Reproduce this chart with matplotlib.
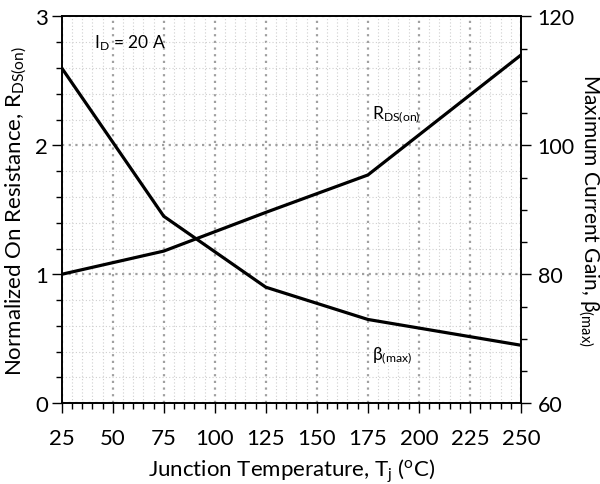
"""Genormaliseerde aan-weerstand en maximale stroomversterking tegen junctietemperatuur."""
import matplotlib
matplotlib.use("Agg")
import matplotlib.pyplot as plt
from matplotlib.ticker import MultipleLocator

plt.rcParams["font.family"] = ["Lato", "DejaVu Sans"]
plt.rcParams["mathtext.fontset"] = "custom"
plt.rcParams["mathtext.rm"] = "Lato"
plt.rcParams["mathtext.it"] = "Lato"
plt.rcParams["mathtext.fallback"] = "stixsans"

# Data
temp_rds = [25, 75, 125, 175, 250]
rds_on = [1.0, 1.18, 1.48, 1.77, 2.7]

temp_beta = [25, 75, 125, 175, 250]
beta_max = [112, 89, 78, 73, 69]

x_ticks = [25, 50, 75, 100, 125, 150, 175, 200, 225, 250]
left_ticks = [0, 1, 2, 3]
right_ticks = [60, 80, 100, 120]

fig = plt.figure(figsize=(6.0, 4.85), dpi=100)
ax = fig.add_axes([0.1028, 0.1664, 0.7655, 0.7979])
ax2 = ax.twinx()

ax.plot(temp_rds, rds_on, color="black", lw=2.3, solid_joinstyle="miter")
ax2.plot(temp_beta, beta_max, color="black", lw=2.3, solid_joinstyle="miter")

ax.set_xlim(25, 250)
ax.set_ylim(0, 3)
ax2.set_ylim(60, 120)

ax.set_xticks(x_ticks)
ax.set_yticks(left_ticks)
ax2.set_yticks(right_ticks)
ax.xaxis.set_minor_locator(MultipleLocator(5))
ax.yaxis.set_minor_locator(MultipleLocator(0.2))
ax2.yaxis.set_minor_locator(MultipleLocator(5))

# Rasterlijnen: donkere stippellijnen voor de hoofdwaarden, lichte voor de tussenwaarden
ax.grid(which="major", color="#a0a0a0", linestyle=(0, (1, 2)), lw=1.6)
ax.grid(which="minor", color="#cfcfcf", linestyle=(0, (1, 2)), lw=0.8)
ax.set_axisbelow(True)

for a in (ax, ax2):
    for s in a.spines.values():
        s.set_linewidth(1.2)
    a.tick_params(which="major", direction="out", length=7, width=1.0, labelsize=16)
    a.tick_params(which="minor", direction="out", length=4.5, width=1.0)
ax.tick_params(axis="x", pad=11)
ax.tick_params(axis="y", pad=3)
ax2.tick_params(axis="y", pad=5, labelsize=15.5)

ax.set_xlabel(r"Junction Temperature, T$\mathregular{_j}$ ($\mathregular{^o}$C)",
              fontsize=16, labelpad=6)
ax.set_ylabel(r"Normalized On Resistance, R$\mathregular{_{DS(on)}}$", fontsize=16, labelpad=4)
ax2.set_ylabel(r"Maximum Current Gain, β$\mathregular{_{(max)}}$", fontsize=15, rotation=270)
# het rechter label staat dicht tegen de getallen aan, dus handmatig plaatsen
ax2.yaxis.set_label_coords(1.146, 0.5)
ax2.yaxis.label.set_va("center")
ax2.yaxis.label.set_ha("center")

ax.text(41, 2.8, r"I$\mathregular{_D}$ = 20 A", fontsize=12.5, va="center", ha="left")
ax.text(177, 2.24, r"R$\mathregular{_{DS(on)}}$", fontsize=12.5, va="center", ha="left")
ax.text(177, 0.37, r"β$\mathregular{_{(max)}}$", fontsize=12.5, va="center", ha="left")

fig.savefig("out.png", dpi=100)
